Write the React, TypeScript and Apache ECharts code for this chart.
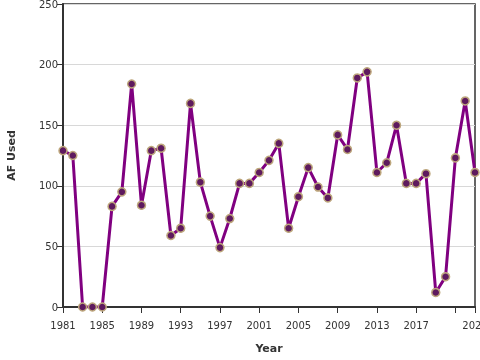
import React, { useEffect, useRef } from "react";
import * as echarts from "echarts";

const years: string[] = [
  "1981","1982","1983","1984","1985","1986","1987","1988","1989","1990",
  "1991","1992","1993","1994","1995","1996","1997","1998","1999","2000",
  "2001","2002","2003","2004","2005","2006","2007","2008","2009","2010",
  "2011","2012","2013","2014","2015","2016","2017","2018","2019","2020",
  "2021","2022","2023",
];

const afUsed: number[] = [
  129, 125, 0, 0, 0, 83, 95, 184, 84, 129,
  131, 59, 65, 168, 103, 75, 49, 73, 102, 102,
  111, 121, 135, 65, 91, 115, 99, 90, 142, 130,
  189, 194, 111, 119, 150, 102, 102, 110, 12, 25,
  123, 170, 111,
];

const yTicks: number[] = [0, 50, 100, 150, 200, 250];

export default function App() {
  const ref = useRef<HTMLDivElement>(null);
  useEffect(() => {
    if (!ref.current) return;
    const chart = echarts.init(ref.current, null, { renderer: "svg" });
    const last = years.length - 1;
    chart.setOption({
      animation: false,
      textStyle: { fontFamily: "DejaVu Sans" },
      grid: {
        left: 63,
        right: 5,
        top: 4,
        bottom: 53,
        containLabel: false,
        outerBoundsMode: "none",
        show: true,
        borderColor: "#333",
        borderWidth: 1.5,
      },
      xAxis: {
        type: "category",
        data: years,
        boundaryGap: false,
        name: "Year",
        nameLocation: "middle",
        nameGap: 36,
        nameTextStyle: { fontWeight: "bold", fontSize: 11, color: "#333" },
        axisLine: { lineStyle: { color: "#333", width: 2 } },
        axisTick: {
          length: 6,
          interval: (i: number) => i % 4 === 0 || i === last,
          lineStyle: { color: "#333" },
        },
        axisLabel: {
          fontSize: 10,
          color: "#333",
          margin: 13,
          interval: (i: number) => (i % 4 === 0 && i !== 40) || i === last,
        },
      },
      yAxis: {
        type: "value",
        min: yTicks[0],
        max: yTicks[yTicks.length - 1],
        interval: 50,
        name: "AF Used",
        nameLocation: "middle",
        nameGap: 46,
        nameTextStyle: { fontWeight: "bold", fontSize: 11, color: "#333" },
        axisLine: { show: true, lineStyle: { color: "#333", width: 2 } },
        axisTick: { show: true, length: 6, lineStyle: { color: "#333" } },
        axisLabel: { fontSize: 10, color: "#333", margin: 5 },
        splitLine: { lineStyle: { color: "#d8d8d8" } },
      },
      series: [
        {
          type: "line",
          data: afUsed,
          symbol: "circle",
          symbolSize: 8,
          showSymbol: true,
          showAllSymbol: true,
          lineStyle: { color: "#800080", width: 3 },
          itemStyle: { color: "#5e1a5e", borderColor: "#bda67c", borderWidth: 1.5 },
        },
      ],
    });
    return () => chart.dispose();
  }, []);
  return (
    <div
      ref={ref}
      style={{ width: 480, height: 360, position: "fixed", left: 0, top: 0 }}
    />
  );
}
